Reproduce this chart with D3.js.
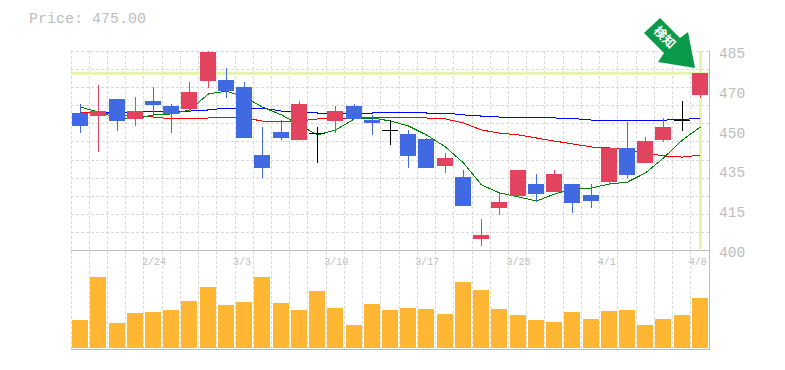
<!DOCTYPE html>
<html>
<head>
<meta charset="utf-8">
<script src="https://cdn.jsdelivr.net/npm/d3@7"></script>
<style>
    body { margin: 0; background: #fff; }
    svg { display: block; }
</style>
</head>
<body>
<div id="chart"></div>
<script>
// daily candles, one entry per trading day
const dates = ["2/18","2/19","2/20","2/21","2/24","2/25","2/26","2/27","2/28","3/3","3/4","3/5","3/6","3/7","3/10","3/11","3/12","3/13","3/14","3/17","3/18","3/19","3/20","3/21","3/25","3/26","3/27","3/28","3/31","4/1","4/2","4/3","4/4","4/7","4/8"];
const dateLabels = ["2/24","3/3","3/10","3/17","3/25","4/1","4/8"];

const opens  = [458.1,456.8,464.0,455.6,463.2,461.1,459.8,471.7,472.1,469.1,440.3,450.0,446.7,449.6,454.7,461.1,455.1,450.9,449.2,447.1,435.6,431.0,404.7,417.8,422.9,428.0,424.6,428.0,423.3,428.8,443.3,436.9,446.7,455.1,465.7];
const closes = [452.6,459.0,454.7,459.0,461.5,457.7,467.0,484.0,467.4,447.5,434.8,447.5,461.9,449.6,459.0,455.6,453.9,450.9,439.9,434.8,439.0,418.7,406.4,420.4,433.9,423.7,432.2,419.9,420.8,443.3,431.8,446.2,452.2,455.1,475.0];
const highs  = [461.9,470.0,464.0,464.9,469.1,461.9,471.2,484.4,477.2,471.2,452.2,455.1,463.2,452.2,461.1,461.9,457.3,455.1,450.9,447.5,441.1,433.9,413.1,424.2,433.9,432.2,433.9,428.0,428.0,443.3,454.3,447.9,456.0,463.2,475.0];
const lows   = [449.6,441.6,450.5,452.6,456.8,449.6,458.5,468.7,464.5,447.5,430.5,446.7,446.7,436.9,449.6,455.6,448.8,444.5,434.8,434.8,432.7,418.7,401.7,414.8,422.9,420.4,424.6,415.7,417.8,427.6,430.5,436.9,445.8,450.5,464.5];

const maShort = [460.6,458.5,456.0,455.6,457.3,457.7,459.4,466.2,467.4,464.9,460.6,457.3,453.0,448.8,450.9,455.6,456.0,454.7,452.6,448.8,443.7,436.9,427.6,424.2,422.5,420.8,423.7,425.9,426.3,428.0,428.8,432.7,439.0,446.7,452.2];
const maMid   = [458.5,458.5,457.3,456.8,456.4,455.6,455.6,456.0,456.4,456.0,454.7,454.7,454.7,455.6,455.6,456.0,456.4,456.4,456.4,456.0,455.6,453.9,450.9,449.6,448.8,447.5,446.2,445.0,443.7,443.3,442.4,441.1,439.9,439.4,440.3];
const maLong  = [458.5,458.5,458.5,458.5,458.9,458.9,458.9,459.4,460.2,460.2,460.2,458.9,458.5,458.1,458.1,458.1,458.1,458.5,458.5,458.1,458.1,457.3,456.8,456.4,456.0,456.0,456.0,455.8,455.1,455.1,455.1,455.1,455.1,455.3,456.0];

const volume = [28,71,25,35,36,38,47,61,43,46,71,45,38,57,40,23,44,38,40,39,34,66,58,39,33,28,26,36,29,37,38,23,29,33,50];

const priceTicks = [484.4,467.5,450.6,433.8,416.9,400];
const priceLabels = ["485","470","450","435","415","400"];
const currentPrice = 475;

const width = 785, height = 370;
const plotLeft = 71, plotRight = 709, plotTop = 51, priceBottom = 250, volBottom = 349;

const svg = d3.select('#chart').append('svg')
    .attr('width', width)
    .attr('height', height);

const scaleX = d3.scaleBand().domain(dates).range([plotLeft, plotRight]);
const scaleY = d3.scaleLinear().domain([400, 484.4]).range([priceBottom, plotTop]);
const scaleVol = d3.scaleLinear().domain([0, 71]).range([volBottom - 1, 277]);
const center = (d) => Math.round(scaleX(d) + scaleX.bandwidth() / 2) + 0.5;
const priceGrid = d3.range(0, 12).map(i => 400 + i * 84.4 / 11);

// title
svg.append('text')
    .attr('x', 29)
    .attr('y', 23)
    .attr('font-family', 'Liberation Mono')
    .attr('font-size', 15)
    .attr('fill', '#bdbdbd')
    .text('Price: ' + currentPrice.toFixed(2));

// grid
const grid = svg.append('g')
    .attr('stroke', '#d9d9d9')
    .attr('stroke-dasharray', '3,2')
    .attr('shape-rendering', 'crispEdges');

grid.selectAll('.h').data(priceGrid).enter().append('line')
    .attr('x1', plotLeft).attr('x2', plotRight)
    .attr('y1', d => Math.round(scaleY(d)) + 0.5)
    .attr('y2', d => Math.round(scaleY(d)) + 0.5);

grid.selectAll('.v').data(dates).enter().append('line')
    .attr('x1', d => Math.floor(scaleX(d)) + 0.5)
    .attr('x2', d => Math.floor(scaleX(d)) + 0.5)
    .attr('y1', plotTop).attr('y2', volBottom);

// frame
svg.append('path')
    .attr('d', `M${plotLeft},${priceBottom + 0.5}H${plotRight}M${plotRight + 0.5},${plotTop}V${volBottom}M${plotLeft},${volBottom + 0.5}H${plotRight + 1}`)
    .attr('fill', 'none')
    .attr('stroke', '#bdbdbd')
    .attr('shape-rendering', 'crispEdges');

// highlight of last day and price
const lastX = center(dates[dates.length - 1]);
svg.append('line')
    .attr('x1', plotLeft).attr('x2', plotRight)
    .attr('y1', scaleY(currentPrice)).attr('y2', scaleY(currentPrice))
    .attr('stroke', '#e3f5a6').attr('stroke-width', 3);
svg.append('line')
    .attr('x1', lastX).attr('x2', lastX)
    .attr('y1', plotTop).attr('y2', priceBottom - 1)
    .attr('stroke', '#e3f5a6').attr('stroke-width', 3);

// moving averages
const line = d3.line().x((d, i) => center(dates[i])).y(d => scaleY(d));
[[maLong, '#0000ff'], [maMid, '#ff0000'], [maShort, '#008000']].forEach(([s, c]) => {
    svg.append('path')
        .attr('d', line(s))
        .attr('fill', 'none')
        .attr('stroke', c)
        .attr('stroke-width', 1)
        .attr('shape-rendering', 'crispEdges');
});

// candles
const colorOf = (i) => closes[i] > opens[i] ? '#e2445f' : (closes[i] < opens[i] ? '#4169e1' : '#000000');

svg.selectAll('.wick').data(dates).enter().append('line')
    .attr('x1', d => center(d)).attr('x2', d => center(d))
    .attr('y1', (d, i) => scaleY(highs[i]))
    .attr('y2', (d, i) => scaleY(lows[i]))
    .attr('stroke', (d, i) => colorOf(i))
    .attr('shape-rendering', 'crispEdges');

svg.selectAll('.body').data(dates).enter().append('rect')
    .attr('x', d => center(d) - 8.5)
    .attr('y', (d, i) => scaleY(Math.max(opens[i], closes[i])))
    .attr('width', 16)
    .attr('height', (d, i) => Math.max(1, Math.abs(scaleY(opens[i]) - scaleY(closes[i]))))
    .attr('fill', (d, i) => colorOf(i))
    .attr('shape-rendering', 'crispEdges');

// volume
svg.selectAll('.vol').data(volume).enter().append('rect')
    .attr('x', (d, i) => center(dates[i]) - 8.5)
    .attr('y', d => scaleVol(d))
    .attr('width', 16)
    .attr('height', d => scaleVol(0) - scaleVol(d))
    .attr('fill', '#ffb733')
    .attr('shape-rendering', 'crispEdges');

// axis labels
svg.selectAll('.py').data(priceTicks).enter().append('text')
    .attr('x', 719)
    .attr('y', d => scaleY(d) + 7)
    .attr('font-family', 'Liberation Mono')
    .attr('font-size', 14.5)
    .attr('fill', '#bdbdbd')
    .text((d, i) => priceLabels[i]);

svg.selectAll('.dx').data(dateLabels).enter().append('text')
    .attr('x', d => scaleX(d) - 2)
    .attr('y', 265)
    .attr('font-family', 'Liberation Mono')
    .attr('font-size', 10)
    .attr('fill', '#bdbdbd')
    .text(d => d);

// arrow marker
svg.append('path')
    .attr('d', 'M660,18L644,33L664,53L658,62L695,68L688,32L680,38Z')
    .attr('fill', '#0a9a4a');
svg.append('text')
    .attr('transform', 'translate(664,38) rotate(45)')
    .attr('text-anchor', 'middle')
    .attr('dominant-baseline', 'middle')
    .attr('font-family', 'Noto Sans CJK JP')
    .attr('font-weight', 'bold')
    .attr('font-size', 12.5)
    .attr('fill', '#fff')
    .text('検知');
</script>
</body>
</html>
